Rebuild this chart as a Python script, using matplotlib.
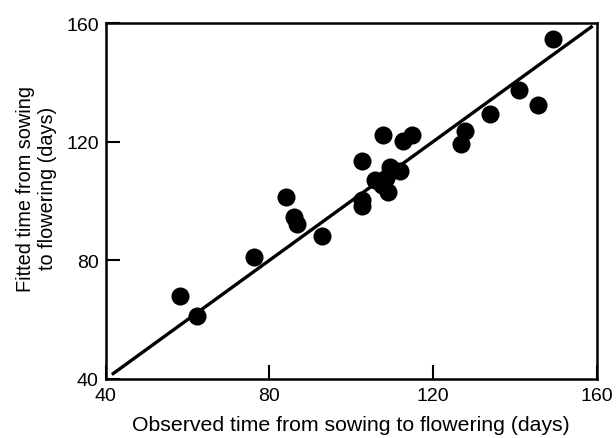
import matplotlib
matplotlib.use("Agg")
import matplotlib.pyplot as plt

# observed vs fitted time from sowing to flowering (days)
observed = [58.2, 62.2, 76.3, 84.1, 86.0, 86.8, 92.8, 102.7, 102.7, 102.7,
            105.8, 107.5, 108.6, 109.1, 109.5, 112.0, 107.8, 112.7, 114.8,
            126.8, 127.8, 133.9, 141.0, 145.7, 149.2]
fitted = [68.1, 61.1, 81.2, 101.2, 94.5, 92.2, 88.3, 113.4, 100.2, 98.2,
          107.2, 105.5, 107.6, 103.0, 111.3, 110.2, 122.2, 120.3, 122.4,
          119.2, 123.5, 129.3, 137.4, 132.3, 154.6]
line_x = [41.5, 159.0]
line_y = [41.5, 159.0]

xticks = [40, 80, 120, 160]
yticks = [40, 80, 120, 160]

plt.rcParams['font.family'] = ['Liberation Sans', 'DejaVu Sans']

fig = plt.figure(figsize=(6.16, 4.39), dpi=100)
ax = fig.add_axes([0.1716, 0.1344, 0.7971, 0.8109])

ax.plot(line_x, line_y, color='black', linewidth=2.4, solid_capstyle='butt')
ax.plot(observed, fitted, 'o', color='black', markersize=13, markeredgewidth=0)

ax.set_xlim(40, 160)
ax.set_ylim(40, 160)
ax.set_xticks(xticks)
ax.set_yticks(yticks)
ax.tick_params(direction='in', length=10, width=1.5, labelsize=14)
ax.tick_params(axis='x', pad=5.5)
ax.tick_params(axis='y', pad=5)
for sp in ax.spines.values():
    sp.set_linewidth(1.8)

ax.set_xlabel("Observed time from sowing to flowering (days)", fontsize=15.3)
ax.xaxis.set_label_coords(0.5, -0.101)
ax.set_ylabel("Fitted time from sowing\nto flowering (days)", fontsize=14.3)
ax.yaxis.set_label_coords(-0.099, 0.537)

fig.savefig("out.png", dpi=100)
